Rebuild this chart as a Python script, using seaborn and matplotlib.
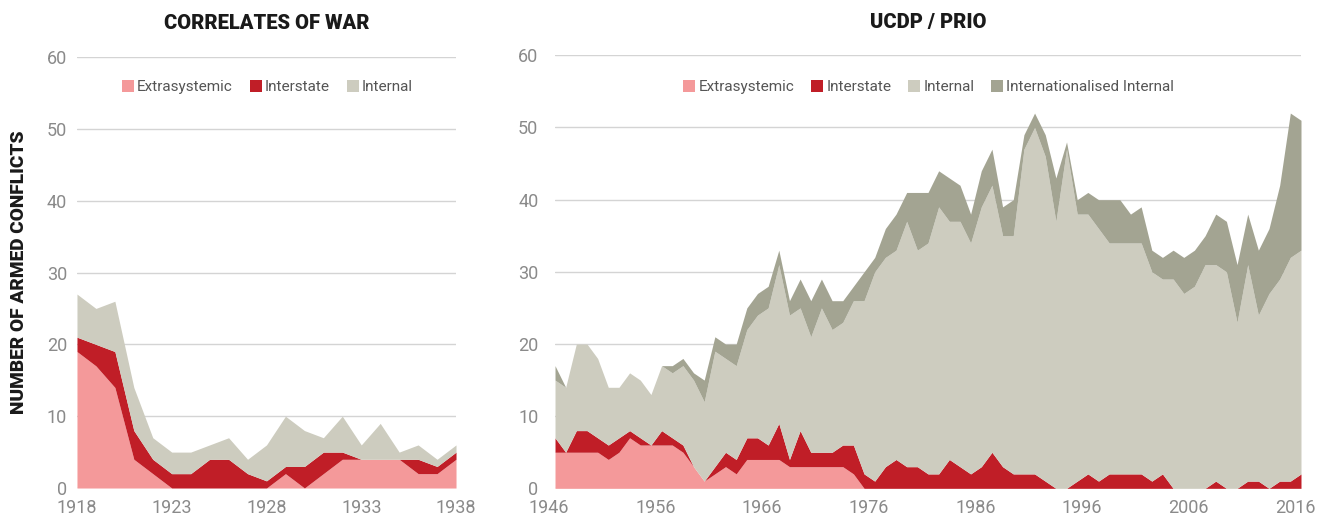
import matplotlib
matplotlib.use("Agg")
import matplotlib.pyplot as plt
from matplotlib.lines import Line2D
from matplotlib.transforms import ScaledTranslation
import seaborn as sns

# ---- Correlates of War, 1918-1938 ----
cow_years = list(range(1918, 1939))
cow_extrasystemic = [19, 17, 14, 4, 2, 0, 0, 0, 0, 0, 0, 2, 0, 2, 4, 4, 4, 4, 2, 2, 4]
cow_interstate = [2, 3, 5, 4, 2, 2, 2, 4, 4, 2, 1, 1, 3, 3, 1, 0, 0, 0, 2, 1, 1]
cow_internal = [6, 5, 7, 6, 3, 3, 3, 2, 3, 2, 5, 7, 5, 2, 5, 2, 5, 1, 2, 1, 1]
cow_ticks = [1918, 1923, 1928, 1933, 1938]

# ---- UCDP / PRIO, 1946-2016 ----
ucdp_years = list(range(1946, 2017))
ucdp_extrasystemic = (
    [5, 5, 5, 5, 5, 4, 5, 7, 6, 6]          # 1946-1955
    + [6, 6, 5, 3, 1, 2, 3, 2, 4, 4]        # 1956-1965
    + [4, 4, 3, 3, 3, 3, 3, 3, 2, 0]        # 1966-1975
    + [0] * 41                              # 1976-2016
)
ucdp_interstate = (
    [2, 0, 3, 3, 2, 2, 2, 1, 1, 0]
    + [2, 1, 1, 0, 0, 1, 2, 2, 3, 3]
    + [2, 5, 1, 5, 2, 2, 2, 3, 4, 2]
    + [1, 3, 4, 3, 3, 2, 2, 4, 3, 2]
    + [3, 5, 3, 2, 2, 2, 1, 0, 0, 1]
    + [2, 1, 2, 2, 2, 2, 1, 2, 0, 0]
    + [0, 0, 1, 0, 0, 1, 1, 0, 1, 1]
    + [2]
)
ucdp_internal = (
    [8, 9, 12, 12, 11, 8, 7, 8, 8, 7]
    + [9, 9, 11, 12, 11, 16, 13, 13, 15, 17]
    + [19, 22, 20, 17, 16, 20, 17, 17, 20, 24]
    + [29, 29, 29, 34, 30, 32, 37, 33, 34, 32]
    + [36, 37, 32, 33, 45, 48, 45, 37, 47, 37]
    + [36, 35, 32, 32, 32, 32, 29, 27, 29, 27]
    + [28, 31, 30, 30, 23, 30, 23, 27, 28, 31]
    + [31]
)
ucdp_internationalised = (
    [2, 0, 0, 0, 0, 0, 0, 0, 0, 0]
    + [0, 1, 1, 1, 3, 2, 2, 3, 3, 3]
    + [3, 2, 2, 4, 5, 4, 4, 3, 2, 4]
    + [2, 4, 5, 4, 8, 7, 5, 6, 5, 4]
    + [5, 5, 4, 5, 2, 2, 3, 6, 1, 2]
    + [3, 4, 6, 6, 4, 5, 3, 3, 4, 5]
    + [5, 4, 7, 7, 8, 7, 9, 9, 13, 20]
    + [18]
)
ucdp_ticks = [1946, 1956, 1966, 1976, 1986, 1996, 2006, 2016]

labels_cow = ["Extrasystemic", "Interstate", "Internal"]
labels_ucdp = ["Extrasystemic", "Interstate", "Internal", "Internationalised Internal"]
colors = ["#F4999A", "#C01E27", "#CDCCBF", "#A3A492"]

sns.set_theme(style="white")
plt.rcParams["font.family"] = ["Roboto", "DejaVu Sans"]

TICK_COLOR = "#8a8a8a"
GRID_COLOR = "#d4d4d4"

fig = plt.figure(figsize=(13.18, 5.22), dpi=100)
ax_l = fig.add_axes([0.0584, 0.0651, 0.2876, 0.8257])
ax_r = fig.add_axes([0.4211, 0.0645, 0.5660, 0.8295])


def style_axis(ax, xmin, xmax, ticks, ypad, xshift_px=0):
    ax.set_xlim(xmin, xmax)
    ax.set_ylim(0, 60)
    ax.set_yticks(range(0, 61, 10))
    ax.set_xticks(ticks)
    ax.set_xticklabels([str(t) for t in ticks])
    ax.grid(axis="y", color=GRID_COLOR, linewidth=1.0)
    ax.grid(axis="x", visible=False)
    ax.set_axisbelow(True)
    for s in ax.spines.values():
        s.set_visible(False)
    ax.tick_params(axis="both", length=0, labelsize=13, labelcolor=TICK_COLOR)
    ax.tick_params(axis="y", pad=ypad)
    ax.tick_params(axis="x", pad=8)
    offset = ScaledTranslation(xshift_px / 100, 0, fig.dpi_scale_trans)
    for lab in ax.get_xticklabels():
        lab.set_transform(lab.get_transform() + offset)


def add_legend(ax, labels, y):
    handles = [
        Line2D([], [], marker="s", linestyle="none", markersize=9,
               markerfacecolor=c, markeredgewidth=0)
        for c in colors[: len(labels)]
    ]
    leg = ax.legend(handles, labels, loc="center", bbox_to_anchor=(0.5, y),
                    ncol=len(labels), frameon=False, fontsize=11,
                    handletextpad=0.1, columnspacing=1.0, handlelength=1.0)
    for t in leg.get_texts():
        t.set_color("#555555")


# Left panel: stacked areas for the interwar period
ax_l.stackplot(cow_years, cow_extrasystemic, cow_interstate, cow_internal,
               colors=colors[:3], linewidth=0)
style_axis(ax_l, 1918, 1938, cow_ticks, ypad=7)
add_legend(ax_l, labels_cow, 0.93)
ax_l.set_title("CORRELATES OF WAR", fontsize=14.5, fontweight="black",
               color="#1a1a1a", pad=20)
ax_l.set_ylabel("NUMBER OF ARMED CONFLICTS", fontsize=13.8, fontweight="black",
                color="#1a1a1a", labelpad=14)

# Right panel: stacked areas for the post-1946 period
ax_r.stackplot(ucdp_years, ucdp_extrasystemic, ucdp_interstate, ucdp_internal,
               ucdp_internationalised, colors=colors, linewidth=0)
style_axis(ax_r, 1946, 2016, ucdp_ticks, ypad=12, xshift_px=-6)
add_legend(ax_r, labels_ucdp, 0.926)
ax_r.set_title("UCDP / PRIO", fontsize=14.5, fontweight="black",
               color="#1a1a1a", pad=20)

fig.savefig("out.png", dpi=100)
